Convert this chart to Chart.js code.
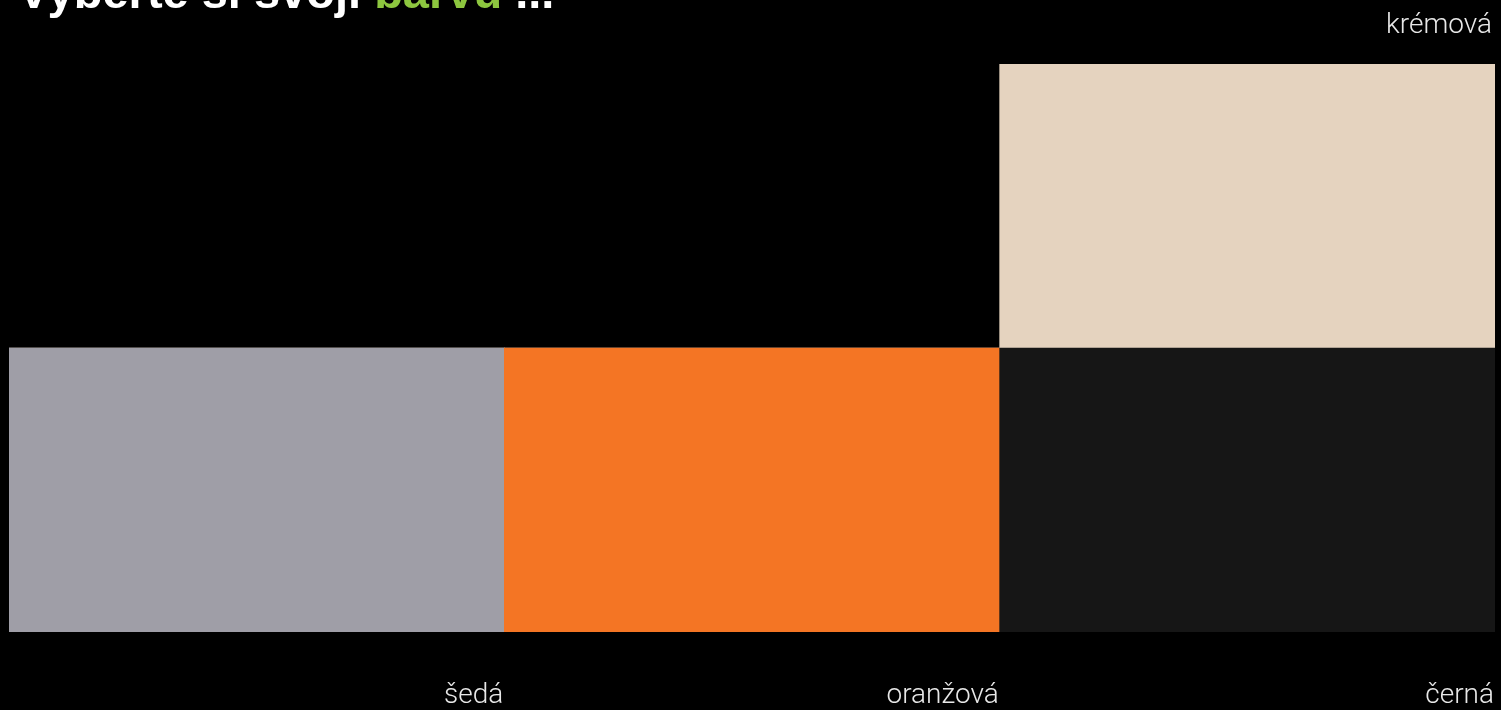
<!DOCTYPE html>
<html>
<head>
<meta charset="utf-8">
<script src="https://cdn.jsdelivr.net/npm/chart.js@4"></script>
<style>
  html, body { margin: 0; padding: 0; background: #000; }
  #wrap { width: 1501px; height: 710px; position: relative; }
  canvas { display: block; }
</style>
</head>
<body>
<div id="wrap"><canvas id="c" width="1501" height="710"></canvas></div>
<script>
// ---- data ----
const categories = ['šedá', 'oranžová', 'černá'];
const baseValues = [1, 1, 1];
const topValues = [0, 0, 1];
const topSeriesName = 'krémová';
const titleParts = ['Vyberte si svoji ', 'barvu', ' ...'];

// ---- styles ----
const baseColors = ['#9f9ea7', '#f47524', '#161616'];
const topColor = '#e5d3bf';
const titleColors = ['#ffffff', '#8dc63f', '#ffffff'];
const labelColor = '#e8e8e8';
const labelFont = '300 28px Roboto, "Liberation Sans", sans-serif';
const titleFont = 'bold 47px "Liberation Sans", Arial, sans-serif';

const overlayPlugin = {
  id: 'overlay',
  afterDraw(chart) {
    const ctx = chart.ctx;
    ctx.save();
    // title
    ctx.font = titleFont;
    ctx.textBaseline = 'alphabetic';
    ctx.textAlign = 'left';
    let x = 18;
    titleParts.forEach((t, i) => {
      ctx.fillStyle = titleColors[i];
      ctx.fillText(t, x, 8);
      x += ctx.measureText(t).width;
    });
    // category labels under each base bar, right aligned to bar's right edge
    ctx.font = labelFont;
    ctx.fillStyle = labelColor;
    ctx.textAlign = 'right';
    const baseMeta = chart.getDatasetMeta(0);
    baseMeta.data.forEach((bar, i) => {
      const right = bar.x + bar.width / 2 - 1;
      ctx.fillText(categories[i], right, bar.base + 71);
    });
    // series label above top bar
    const topMeta = chart.getDatasetMeta(1);
    topMeta.data.forEach((bar, i) => {
      if (!topValues[i]) return;
      const right = bar.x + bar.width / 2 - 3;
      ctx.fillText(topSeriesName, right, bar.y - 31);
    });
    ctx.restore();
  }
};

new Chart(document.getElementById('c'), {
  type: 'bar',
  data: {
    labels: categories,
    datasets: [
      {
        label: 'base',
        data: baseValues,
        backgroundColor: baseColors,
        borderWidth: 0,
        barPercentage: 1,
        categoryPercentage: 1
      },
      {
        label: topSeriesName,
        data: topValues,
        backgroundColor: topColor,
        borderWidth: 0,
        barPercentage: 1,
        categoryPercentage: 1
      }
    ]
  },
  options: {
    responsive: false,
    devicePixelRatio: 1,
    animation: false,
    layout: { padding: { left: 9, right: 6, top: 64, bottom: 78 } },
    plugins: {
      legend: { display: false },
      title: { display: false },
      tooltip: { enabled: false }
    },
    scales: {
      x: { stacked: true, display: false },
      y: { stacked: true, display: false, min: 0, max: 2 }
    }
  },
  plugins: [overlayPlugin]
});
</script>
</body>
</html>
